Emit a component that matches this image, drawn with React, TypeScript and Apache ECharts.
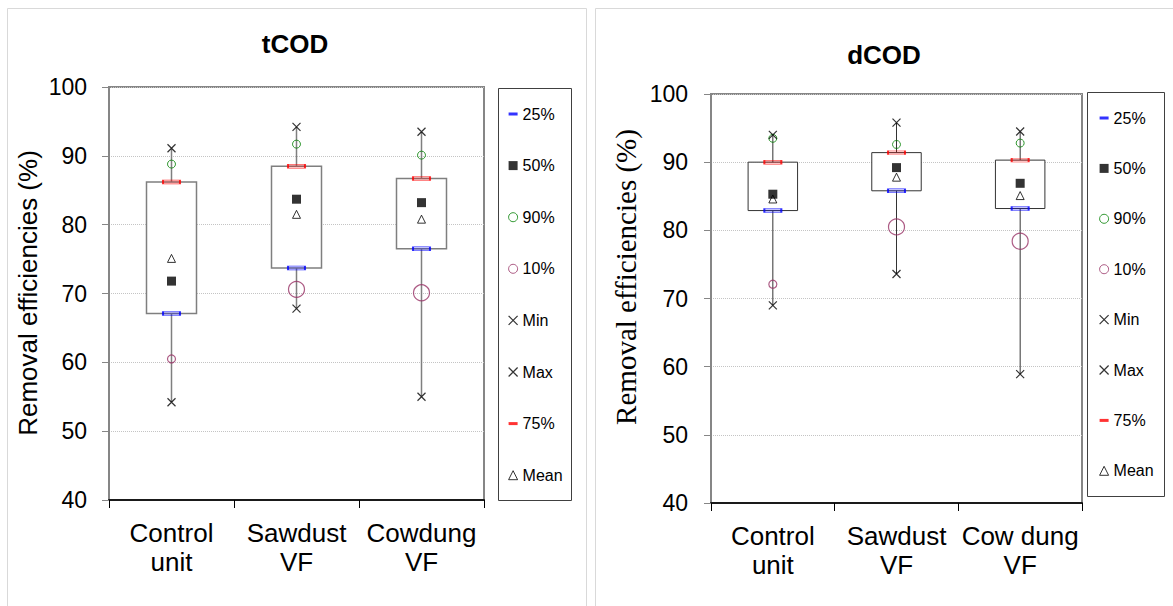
import { useEffect, useRef } from 'react';
import * as echarts from 'echarts';

// ---------- data ----------
const T_CATEGORIES = ['Control\nunit', 'Sawdust\nVF', 'Cowdung\nVF'];
const T_MIN = [54.2, 67.8, 55.0];
const T_P10 = [60.5, 70.6, 70.1];
const T_P25 = [67.1, 73.7, 76.5];
const T_P50 = [71.8, 83.7, 83.2];
const T_P75 = [86.2, 88.5, 86.7];
const T_P90 = [88.8, 91.7, 90.1];
const T_MAX = [91.1, 94.2, 93.5];
const T_MEAN = [75.1, 81.5, 80.8];

const D_CATEGORIES = ['Control\nunit', 'Sawdust\nVF', 'Cow dung\nVF'];
const D_MIN = [69.0, 73.6, 58.9];
const D_P10 = [72.1, 80.5, 78.4];
const D_P25 = [82.9, 85.8, 83.2];
const D_P50 = [85.3, 89.2, 86.9];
const D_P75 = [90.0, 91.4, 90.3];
const D_P90 = [93.5, 92.6, 92.8];
const D_MAX = [94.0, 95.8, 94.5];
const D_MEAN = [84.6, 87.8, 85.1];

const Y_MIN = 40;
const Y_MAX = 100;
const Y_STEP = 10;
const T_TITLE = 'tCOD';
const D_TITLE = 'dCOD';
const Y_NAME = 'Removal efficiencies (%)';
const LEGEND_NAMES = ['25%', '50%', '90%', '10%', 'Min', 'Max', '75%', 'Mean'];

// ---------- styles ----------
const SANS = '"Liberation Sans", Arial, sans-serif';
const SERIF = '"Liberation Serif", "Times New Roman", serif';
const X_MARK = 'path://M0,0L10,10M10,0L0,10';
const DASH_ICON = 'path://M0,0H12V4H0Z';
const TEN_SIZES = [8, 16, 16];

const markerStyle: Record<string, any> = {
  '25%': { symbol: 'rect', symbolSize: [17, 4], z: 5, itemStyle: { color: 'rgba(0,0,255,0.3)', borderColor: '#0000ff', borderWidth: 1 } },
  '75%': { symbol: 'rect', symbolSize: [17, 4], z: 5, itemStyle: { color: 'rgba(255,0,0,0.3)', borderColor: '#ff0000', borderWidth: 1 } },
  '50%': { symbol: 'rect', symbolSize: 9, z: 6, itemStyle: { color: '#000' } },
  '90%': { symbol: 'circle', symbolSize: 8, z: 5, itemStyle: { color: 'rgba(0,0,0,0)', borderColor: '#008000', borderWidth: 1 } },
  '10%': { symbol: 'circle', symbolSize: (_v: any, p: any) => TEN_SIZES[p.dataIndex], z: 5, itemStyle: { color: 'rgba(0,0,0,0)', borderColor: '#993366', borderWidth: 1.2 } },
  Min: { symbol: X_MARK, symbolSize: 8, z: 5, itemStyle: { color: 'rgba(0,0,0,0)', borderColor: '#000', borderWidth: 1.2 } },
  Max: { symbol: X_MARK, symbolSize: 8, z: 5, itemStyle: { color: 'rgba(0,0,0,0)', borderColor: '#000', borderWidth: 1.2 } },
  Mean: { symbol: 'triangle', symbolSize: [8, 8], z: 4, itemStyle: { color: '#fff', borderColor: '#000', borderWidth: 1 } },
};

const legendIcons: Record<string, any> = {
  '25%': { icon: DASH_ICON, itemStyle: { color: '#0000ff', borderWidth: 0 } },
  '75%': { icon: DASH_ICON, itemStyle: { color: '#ff0000', borderWidth: 0 } },
  '50%': { icon: 'rect', itemStyle: { color: '#000', borderWidth: 0 } },
  '90%': { icon: 'circle', itemStyle: { color: '#fff', borderColor: '#008000', borderWidth: 1 } },
  '10%': { icon: 'circle', itemStyle: { color: '#fff', borderColor: '#993366', borderWidth: 1 } },
  Min: { icon: X_MARK, itemStyle: { color: 'rgba(0,0,0,0)', borderColor: '#000', borderWidth: 1.2 } },
  Max: { icon: X_MARK, itemStyle: { color: 'rgba(0,0,0,0)', borderColor: '#000', borderWidth: 1.2 } },
  Mean: { icon: 'triangle', itemStyle: { color: '#fff', borderColor: '#000', borderWidth: 1 } },
};

function panelSeries(g: number, cats: string[], stats: Record<string, number[]>, boxStroke: string, boxWidth: number) {
  const minArr = stats['Min'];
  const maxArr = stats['Max'];
  const q1 = stats['25%'];
  const q3 = stats['75%'];
  const box = {
    type: 'custom',
    name: 'box' + g,
    xAxisIndex: g,
    yAxisIndex: g,
    z: 2,
    silent: true,
    data: cats.map((_, i) => [i, minArr[i], q1[i], q3[i], maxArr[i]]),
    encode: { x: 0, y: [1, 2, 3, 4] },
    renderItem: (_params: any, api: any) => {
      const x = api.value(0);
      const pMin = api.coord([x, api.value(1)]);
      const pQ1 = api.coord([x, api.value(2)]);
      const pQ3 = api.coord([x, api.value(3)]);
      const pMax = api.coord([x, api.value(4)]);
      const w = api.size([1, 0])[0] * 0.4;
      return {
        type: 'group',
        children: [
          { type: 'line', shape: { x1: pMin[0], y1: pMin[1], x2: pMax[0], y2: pMax[1] }, style: { stroke: boxStroke, lineWidth: boxWidth } },
          { type: 'rect', shape: { x: pQ1[0] - w / 2, y: pQ3[1], width: w, height: pQ1[1] - pQ3[1] }, style: { fill: '#fff', stroke: boxStroke, lineWidth: boxWidth } },
        ],
      };
    },
  };
  const scatters = LEGEND_NAMES.map((name) => ({
    type: 'scatter',
    name,
    xAxisIndex: g,
    yAxisIndex: g,
    data: stats[name],
    emphasis: { disabled: true },
    ...markerStyle[name],
  }));
  return [box, ...scatters];
}

function xAxisCfg(g: number, cats: string[]) {
  return {
    type: 'category',
    gridIndex: g,
    data: cats,
    boundaryGap: true,
    axisLine: { show: true, lineStyle: { color: '#1a1a1a', width: 2 } },
    axisTick: { show: true, length: 8, lineStyle: { color: '#000', width: 1 } },
    axisLabel: { interval: 0, fontSize: 26, lineHeight: 29, color: '#000', fontFamily: SANS, margin: 18 },
    splitLine: { show: false },
  };
}

function yAxisCfg(g: number, margin: number) {
  return {
    type: 'value',
    gridIndex: g,
    min: Y_MIN,
    max: Y_MAX,
    interval: Y_STEP,
    axisLine: { show: true, lineStyle: { color: '#868686', width: 2 } },
    axisTick: { show: true, length: 7, lineStyle: { color: '#868686', width: 1 } },
    axisLabel: { fontSize: 23, color: '#000', fontFamily: SANS, margin },
    splitLine: { show: true, lineStyle: { type: 'dotted', color: '#c4c4c4', width: 1 } },
  };
}

function legendCfg(left: number, top: number, gap: number) {
  return {
    orient: 'vertical',
    left,
    top,
    padding: 0,
    itemWidth: 9,
    itemHeight: 9,
    itemGap: gap,
    itemTextGap: 3,
    selectedMode: false,
    textStyle: { fontSize: 16, lineHeight: 16, color: '#000', fontFamily: SANS },
    data: LEGEND_NAMES.map((name) => ({ name, ...legendIcons[name] })),
  };
}

export default function App() {
  const ref = useRef<HTMLDivElement>(null);
  useEffect(() => {
    if (!ref.current) return;
    const chart = echarts.init(ref.current, undefined, { renderer: 'svg' });
    const tStats = { Min: T_MIN, '10%': T_P10, '25%': T_P25, '50%': T_P50, '75%': T_P75, '90%': T_P90, Max: T_MAX, Mean: T_MEAN };
    const dStats = { Min: D_MIN, '10%': D_P10, '25%': D_P25, '50%': D_P50, '75%': D_P75, '90%': D_P90, Max: D_MAX, Mean: D_MEAN };
    chart.setOption({
      animation: false,
      backgroundColor: '#fff',
      title: [
        { text: T_TITLE, left: 295, top: 31, textAlign: 'center', padding: 0, textStyle: { fontSize: 26, fontWeight: 'bold', color: '#000', fontFamily: SANS } },
        { text: D_TITLE, left: 884, top: 42, textAlign: 'center', padding: 0, textStyle: { fontSize: 26, fontWeight: 'bold', color: '#000', fontFamily: SANS } },
      ],
      grid: [
        { left: 109, top: 87, width: 375, height: 413, show: true, borderColor: '#868686', borderWidth: 2, backgroundColor: 'rgba(0,0,0,0)' },
        { left: 711, top: 94, width: 371, height: 409, show: true, borderColor: '#868686', borderWidth: 2, backgroundColor: 'rgba(0,0,0,0)' },
      ],
      xAxis: [xAxisCfg(0, T_CATEGORIES), xAxisCfg(1, D_CATEGORIES)],
      yAxis: [yAxisCfg(0, 22), yAxisCfg(1, 23)],
      legend: [legendCfg(508, 106, 35.6), legendCfg(1099, 110, 34.4)],
      graphic: [
        { type: 'rect', silent: true, z: -10, shape: { x: 7.5, y: 8.5, width: 579, height: 640 }, style: { fill: 'none', stroke: '#d9d9d9', lineWidth: 1 } },
        { type: 'rect', silent: true, z: -10, shape: { x: 595.5, y: 8.5, width: 640, height: 640 }, style: { fill: 'none', stroke: '#d9d9d9', lineWidth: 1 } },
        { type: 'rect', silent: true, shape: { x: 498.5, y: 88.5, width: 73, height: 412 }, style: { fill: 'none', stroke: '#404040', lineWidth: 1 } },
        { type: 'rect', silent: true, shape: { x: 1087.5, y: 92.5, width: 77, height: 404 }, style: { fill: 'none', stroke: '#404040', lineWidth: 1 } },
        { type: 'text', silent: true, x: 28, y: 293, rotation: Math.PI / 2, style: { text: Y_NAME, font: '26px ' + SANS, fill: '#000', textAlign: 'center', textVerticalAlign: 'middle' } },
        { type: 'text', silent: true, x: 626, y: 277, rotation: Math.PI / 2, style: { text: Y_NAME, font: '29px ' + SERIF, fill: '#000', textAlign: 'center', textVerticalAlign: 'middle' } },
      ],
      series: [
        ...panelSeries(0, T_CATEGORIES, tStats, '#7f7f7f', 1.5),
        ...panelSeries(1, D_CATEGORIES, dStats, '#333333', 1),
      ],
    });
    return () => chart.dispose();
  }, []);
  return <div ref={ref} style={{ position: 'absolute', left: 0, top: 0, width: 1173, height: 606 }} />;
}
